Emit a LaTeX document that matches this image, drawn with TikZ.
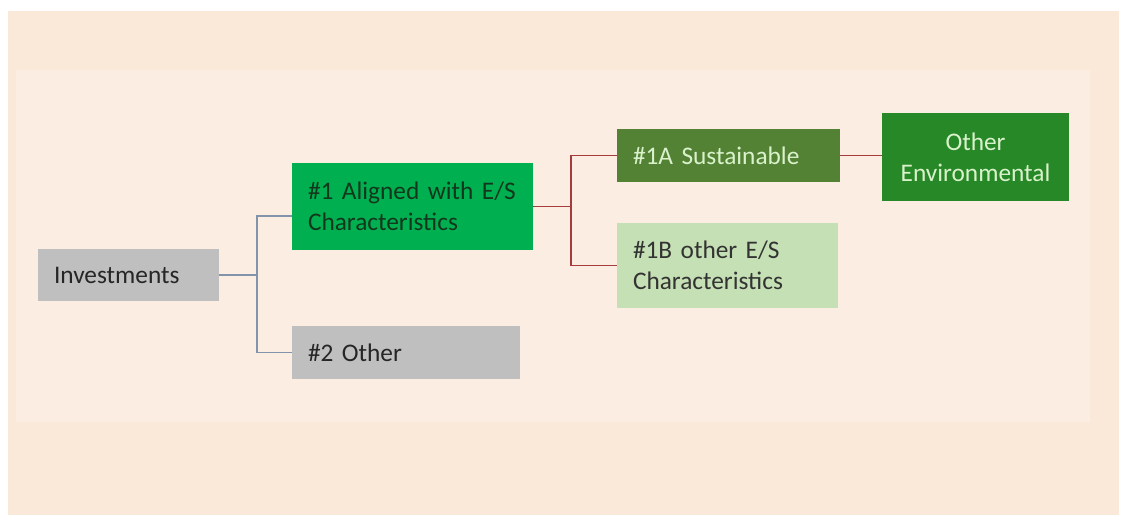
\documentclass[tikz,border=0pt]{standalone}
\usepackage{fontspec}
\setmainfont{Carlito}
\usepackage{tikz}

\definecolor{peachout}{RGB}{250,232,216}
\definecolor{peachin}{RGB}{252,237,226}
\definecolor{greybox}{RGB}{191,191,191}
\definecolor{greentxt}{RGB}{18,55,28}
\definecolor{brightgreen}{RGB}{0,176,80}
\definecolor{olivegreen}{RGB}{84,130,53}
\definecolor{forestgreen}{RGB}{38,136,38}
\definecolor{palegreen}{RGB}{197,224,180}
\definecolor{lighttxt}{RGB}{218,242,204}
\definecolor{bluelink}{RGB}{130,148,170}
\definecolor{redlink}{RGB}{165,60,60}

\protected\def\boxfont{\fontsize{19}{23}\selectfont\spaceskip=3.6pt\relax}

\tikzset{
  box/.style={rectangle, inner xsep=12pt, inner ysep=0pt, align=left,
    font=\boxfont},
  blueline/.style={draw=bluelink, line width=1.1pt},
  redline/.style={draw=redlink, line width=1.1pt}
}

\begin{document}
\begin{tikzpicture}[x=0.75pt,y=0.75pt,yscale=-1,xscale=1]
\useasboundingbox (0,0) rectangle (1125,515);
\fill[white] (0,0) rectangle (1125,515);

%Background
\fill[peachout] (8,11) rectangle (1119,515);
\fill[peachin] (16,70) rectangle (1090,422);

%Boxes
\node[box, fill=greybox, text=black!85, text width=111.75pt, minimum height=39pt] (inv) at (128.5,275) {Investments};
\node[box, fill=brightgreen, text=greentxt, text width=156.75pt, minimum height=65pt] (al) at (412.5,206.5) {\mbox{\#1 Aligned with E/S}\\Characteristics};
\node[box, fill=greybox, text=black!85, text width=147pt, minimum height=40pt] (oth) at (406,352.5) {\#2 Other};
\node[box, fill=olivegreen, text=lighttxt, text width=143.25pt, minimum height=40pt] (sus) at (728.5,155.5) {\#1A Sustainable};
\node[box, fill=palegreen, text=black!80, text width=141.75pt, minimum height=64pt] (oes) at (727.5,265.5) {\#1B other E/S\\Characteristics};
\node[box, fill=forestgreen, text=lighttxt, text width=116.25pt, minimum height=66pt, align=center] (env) at (975.5,157) {Other\\Environmental};

%Connectors
\coordinate (fk1) at (257,275);
\coordinate (fk2) at (571,206.5);
\draw[blueline] (inv.east) -- (fk1);
\draw[blueline] (fk1) |- ([yshift=7pt]al.west);
\draw[blueline] (fk1) |- (oth.west);
\draw[redline] (al.east) -- (fk2);
\draw[redline] (fk2) |- (sus.west);
\draw[redline] (fk2) |- (oes.west);
\draw[redline] (sus.east) -- (sus.east -| env.west);

\end{tikzpicture}
\end{document}
